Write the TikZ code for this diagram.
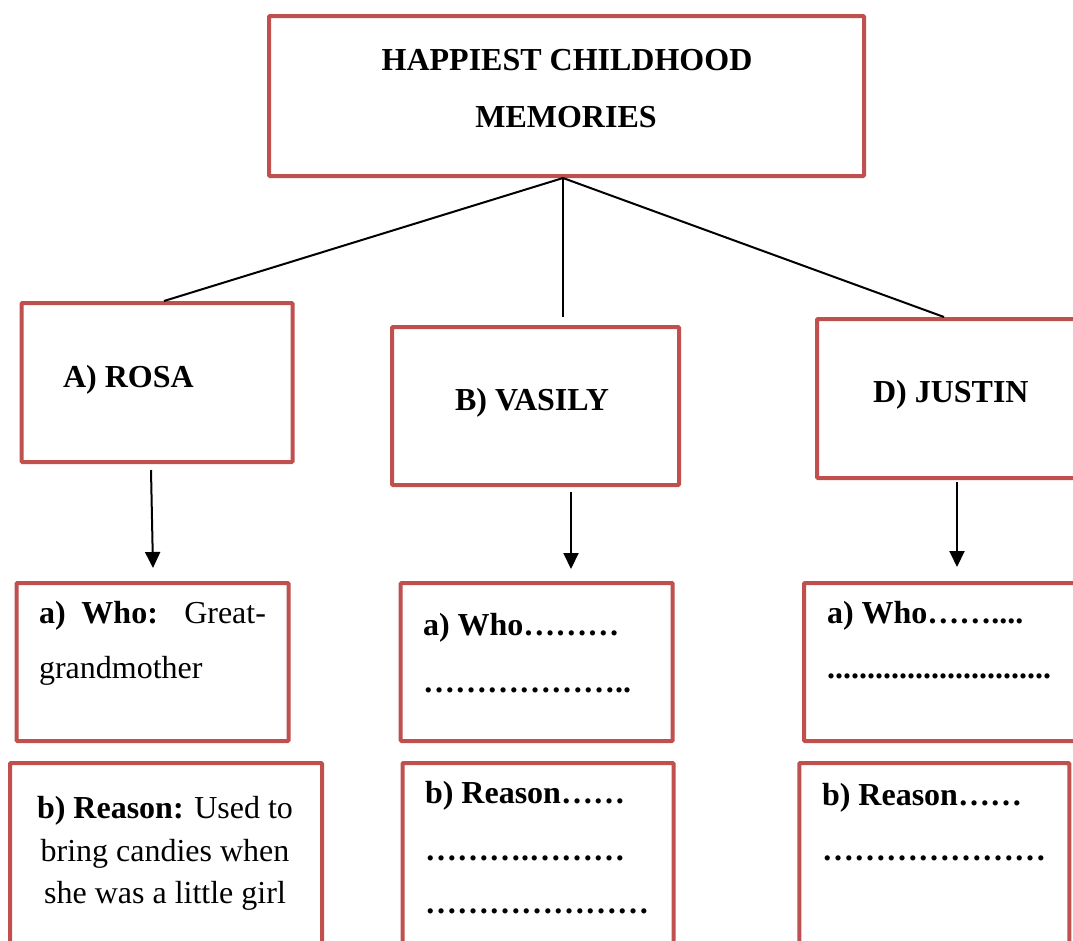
\documentclass[tikz,border=0pt]{standalone}
\usepackage{fontspec}
\setmainfont{Liberation Serif}
\usetikzlibrary{arrows.meta}
\definecolor{boxred}{RGB}{192,80,77}
\tikzset{
  box/.style={draw=boxred, line width=4pt, rectangle, inner sep=0pt, rounded corners=1pt, fill=none},
  txt/.style={inner sep=0pt, outer sep=0pt, font=\fontsize{32}{40}\selectfont},
  conn/.style={draw=black, line width=2pt},
  arr/.style={draw=black, line width=2pt, -{Triangle[length=16pt,width=15pt]}}
}
\begin{document}
\begin{tikzpicture}[x=1pt,y=-1pt]
\clip (0,0) rectangle (1073,940);
\fill[white] (0,0) rectangle (1073,940);
% boxes
\node[box, minimum width=595pt, minimum height=160pt] (top) at (566.5,96) {};
\node[box, minimum width=271pt, minimum height=159pt] (rosa) at (157,382.5) {};
\node[box, minimum width=287pt, minimum height=158pt] (vasily) at (535.5,406) {};
\node[box, minimum width=273pt, minimum height=159pt] (justin) at (953.5,398.5) {};
\node[box, minimum width=272pt, minimum height=158pt] (rosaA) at (152.5,662) {};
\node[box, minimum width=312pt, minimum height=197pt] (rosaB) at (166,861.5) {};
\node[box, minimum width=272pt, minimum height=158pt] (vasA) at (536.7,662) {};
\node[box, minimum width=271pt, minimum height=197pt] (vasB) at (538,861.5) {};
\node[box, minimum width=286pt, minimum height=158pt] (jusA) at (947,662) {};
\node[box, minimum width=270pt, minimum height=197pt] (jusB) at (934.3,861.5) {};
% texts
\node[txt, anchor=base] (t1) at (567,70) {\textbf{HAPPIEST CHILDHOOD}};
\node[txt, anchor=base] (t2) at (566,127) {\textbf{MEMORIES}};
\node[txt, anchor=base west] (rosaT) at (63,387) {\textbf{A) ROSA}};
\node[txt, anchor=base west] (vasT) at (455,410) {\textbf{B) VASILY}};
\node[txt, anchor=base west] (jusT) at (873,402) {\textbf{D) JUSTIN}};
\node[txt, anchor=base west] (ra1) at (39,623) {\makebox[227pt][s]{\textbf{a)} \textbf{Who:} Great-}};
\node[txt, anchor=base west] (ra2) at (39,678) {grandmother};
\node[txt, anchor=base] (rb1) at (165,818) {\textbf{b) Reason:} Used to};
\node[txt, anchor=base] (rb2) at (165,861) {bring candies when};
\node[txt, anchor=base] (rb3) at (165,903) {she was a little girl};
\node[txt, anchor=base west] (va1) at (423,635) {\textbf{a) Who………}};
\node[txt, anchor=base west] (va2) at (423,692) {\textbf{………………..}};
\node[txt, anchor=base west] (vb1) at (425,803) {\textbf{b) Reason……}};
\node[txt, anchor=base west] (vb2) at (425,860) {\textbf{……….………}};
\node[txt, anchor=base west] (vb3) at (425,913) {\textbf{…………………}};
\node[txt, anchor=base west] (ja1) at (827,623) {\textbf{a) Who……....}};
\node[txt, anchor=base west] (ja2) at (827,678) {\textbf{............................}};
\node[txt, anchor=base west] (jb1) at (822,805) {\textbf{b) Reason……}};
\node[txt, anchor=base west] (jb2) at (822,860) {\textbf{…………………}};
% connectors
\coordinate (hub) at ([xshift=-3.5pt]top.south);
\coordinate (vend) at (563,317);
\draw[conn] (hub) -- ([xshift=7pt]rosa.north);
\draw[conn] (hub) -- (vend);
\draw[conn] (hub) -- ([xshift=-9.5pt]justin.north);
% arrows
\coordinate (rs) at (151,470);
\coordinate (re) at (153,568);
\coordinate (vs) at (571,492);
\coordinate (ve) at (571,569);
\coordinate (js) at (957,482);
\coordinate (je) at (957,567);
\draw[arr] (rs) -- (re);
\draw[arr] (vs) -- (ve);
\draw[arr] (js) -- (je);
\end{tikzpicture}
\end{document}
